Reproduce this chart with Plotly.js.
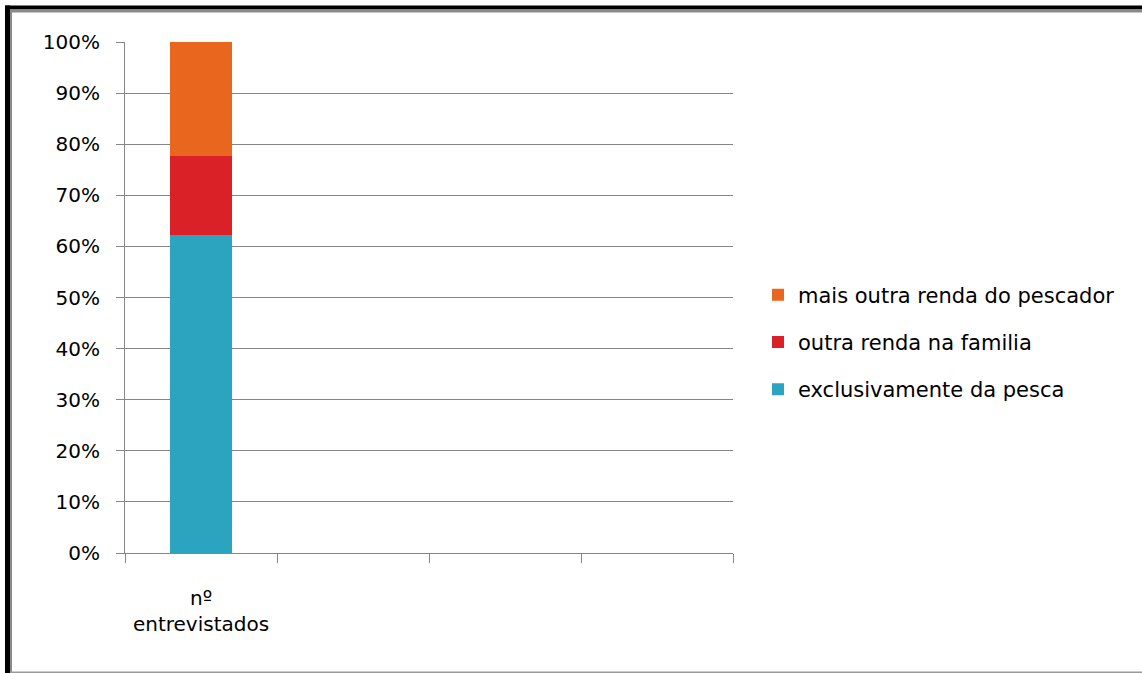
<!DOCTYPE html>
<html>
<head>
<meta charset="utf-8">
<script src="https://cdn.plot.ly/plotly-3.0.1.min.js"></script>
<style>
  html, body { margin: 0; padding: 0; background: #ffffff; }
  #chart { width: 1142px; height: 673px; }
</style>
</head>
<body>
<div id="chart"></div>
<script>
// Category slots along the x axis (only the first one carries data)
const categories = ['nº<br>entrevistados', ' ', '  ', '   '];

// Interviewees by income source (counts, shown as 100% stacked shares)
const seriesNames = ['exclusivamente da pesca', 'outra renda na familia', 'mais outra renda do pescador'];
const exclusivamentePesca = [28];
const outraRendaFamilia = [7];
const maisOutraRendaPescador = [10];

const seriesColors = ['#2CA3BF', '#DA2128', '#E9661F'];

const W = 1142, H = 673;
const M = { l: 125, r: W - 733, t: 42, b: H - 553 };
const pw = W - M.l - M.r, ph = H - M.t - M.b;
// pixel position -> paper coordinates for the outer frame
const px = x => (x - M.l) / pw;
const py = y => (H - M.b - y) / ph;

function frameRect(x0, y0, x1, y1, color) {
  return {
    type: 'rect', xref: 'paper', yref: 'paper', layer: 'above',
    x0: px(x0), x1: px(x1), y0: py(y0), y1: py(y1),
    fillcolor: color, line: { width: 0 }
  };
}

const valueSets = [exclusivamentePesca, outraRendaFamilia, maisOutraRendaPescador];
const traces = valueSets.map((vals, i) => ({
  type: 'bar',
  name: seriesNames[i],
  x: [categories[0]],
  y: vals,
  width: 0.41,
  marker: { color: seriesColors[i], line: { width: 0 } },
  legendgroup: 'g' + i,
  legendrank: 1000 - i,   // top segment listed first
  hoverinfo: 'name+y'
}));

const font = { family: 'DejaVu Sans, sans-serif', size: 20, color: '#000000' };
const legendFont = { family: 'DejaVu Sans, sans-serif', size: 21, color: '#000000' };

const layout = {
  width: W, height: H,
  margin: M,
  paper_bgcolor: '#ffffff',
  plot_bgcolor: 'rgba(0,0,0,0)',
  barmode: 'stack',
  barnorm: 'percent',
  font: font,
  showlegend: true,
  legend: {
    xref: 'container', yref: 'container',
    x: 758 / W, y: 1 - 342 / H, xanchor: 'left', yanchor: 'middle',
    traceorder: 'grouped',
    tracegroupgap: 17,
    itemwidth: 30,
    font: legendFont,
    bgcolor: 'rgba(0,0,0,0)'
  },
  xaxis: {
    type: 'category',
    categoryorder: 'array',
    categoryarray: categories,
    range: [-0.5, 3.5],
    tickson: 'boundaries',
    ticks: 'outside', ticklen: 9, tickwidth: 1, tickcolor: '#868686',
    ticklabelstandoff: 27,
    showline: true, linecolor: '#868686', linewidth: 1,
    showgrid: false, zeroline: false,
    tickfont: font,
    fixedrange: true
  },
  yaxis: {
    range: [0, 100],
    dtick: 10, tick0: 0,
    ticksuffix: '%',
    ticks: 'outside', ticklen: 8, tickwidth: 1, tickcolor: '#868686',
    ticklabelstandoff: 12,
    showline: true, linecolor: '#868686', linewidth: 1,
    showgrid: true, gridcolor: '#868686', gridwidth: 1,
    zeroline: false,
    tickfont: font,
    fixedrange: true
  },
  shapes: [
    frameRect(5, 5.5, 10, H + 2, '#000000'),
    frameRect(5, 5.5, W + 2, 9.5, '#000000'),
    frameRect(10, 9.5, 12, H + 2, '#8a8a8a'),
    frameRect(10, 9.5, W + 2, 12.5, '#8a8a8a'),
    frameRect(10, 671.5, W + 2, 673, '#9a9a9a')
  ]
};

Plotly.newPlot('chart', traces, layout, { displayModeBar: false, staticPlot: true });
</script>
</body>
</html>
